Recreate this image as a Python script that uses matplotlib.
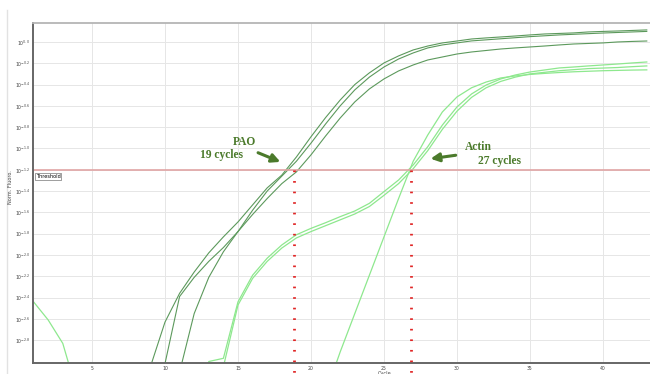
import numpy as np
import matplotlib
matplotlib.use("Agg")
import matplotlib.pyplot as plt
from matplotlib.lines import Line2D

# cycles 1..43, values are log10 of normalized fluorescence
cycles = np.arange(1, 44)
NONE = -3.6  # below the visible range

pao_a = [NONE] * 8 + [-3.05, -2.63, -2.36, -2.16, -1.98, -1.83, -1.69, -1.53, -1.37, -1.25,
         -1.08, -0.89, -0.71, -0.545, -0.40, -0.29, -0.197, -0.131, -0.075, -0.038, -0.009,
         0.009, 0.028, 0.038, 0.047, 0.056, 0.066, 0.075, 0.080, 0.085, 0.094, 0.099, 0.103,
         0.108, 0.113]
pao_b = [NONE] * 9 + [-3.02, -2.39, -2.21, -2.06, -1.93, -1.78, -1.58, -1.40, -1.26,
         -1.12, -0.95, -0.77, -0.60, -0.45, -0.33, -0.235, -0.16, -0.103, -0.056, -0.028,
         -0.009, 0.010, 0.020, 0.030, 0.040, 0.050, 0.058, 0.066, 0.072, 0.078, 0.084, 0.089,
         0.094, 0.099]
pao_c = [NONE] * 10 + [-3.10, -2.55, -2.21, -1.97, -1.78, -1.62, -1.47, -1.33, -1.22,
         -1.06, -0.883, -0.714, -0.563, -0.441, -0.347, -0.272, -0.216, -0.169, -0.141,
         -0.113, -0.094, -0.080, -0.066, -0.056, -0.047, -0.038, -0.028, -0.019, -0.014,
         -0.009, 0.000, 0.005, 0.009]

act_a = [NONE] * 12 + [-3.00, -2.97, -2.44, -2.19, -2.03, -1.906, -1.81, -1.75, -1.697,
         -1.64, -1.587, -1.515, -1.405, -1.296, -1.155, -0.983, -0.78, -0.61, -0.488, -0.404,
         -0.347, -0.31, -0.282, -0.263, -0.244, -0.235, -0.225, -0.216, -0.207, -0.197, -0.188]
act_b = [NONE] * 13 + [-3.05, -2.47, -2.22, -2.06, -1.935, -1.84, -1.78, -1.725, -1.67,
         -1.615, -1.545, -1.44, -1.33, -1.19, -1.02, -0.82, -0.65, -0.52, -0.43, -0.37,
         -0.33, -0.30, -0.285, -0.27, -0.26, -0.25, -0.245, -0.24, -0.232, -0.225]
act_c = [-2.44, -2.61, -2.83, -3.30] + [NONE] * 16 + [-3.30, -2.91, -2.55, -2.19, -1.83,
         -1.47, -1.12, -0.873, -0.657, -0.516, -0.43, -0.376, -0.338, -0.319, -0.305,
         -0.295, -0.287, -0.28, -0.275, -0.27, -0.267, -0.264, -0.262]

threshold = -1.2
ct_pao = 18.85
ct_actin = 26.85
ytick_exp = [0.0, -0.2, -0.4, -0.6, -0.8, -1.0, -1.2, -1.4, -1.6, -1.8, -2.0, -2.2, -2.4, -2.6, -2.8]
xticks = [5, 10, 15, 20, 25, 30, 35, 40]

dark = "#5c995c"
light = "#8ee88e"
note = "#4b7a2b"

fig = plt.figure(figsize=(6.5, 3.74), dpi=100)
ax = fig.add_axes([33 / 650, 11 / 374, 617 / 650, 340 / 374])

for vals in (pao_a, pao_b, pao_c):
    ax.plot(cycles, 10 ** np.array(vals), color=dark, lw=0.8)
for vals in (act_a, act_b, act_c):
    ax.plot(cycles, 10 ** np.array(vals), color=light, lw=0.9)

ax.set_yscale("log")
ax.set_xlim(0.96, 43.22)
ax.set_ylim(10 ** -3.014, 10 ** 0.178)
ax.set_yticks([10 ** e for e in ytick_exp])
ax.set_yticklabels(["$10^{%.1f}$" % e for e in ytick_exp])
ax.yaxis.set_minor_locator(matplotlib.ticker.NullLocator())
ax.set_xticks(xticks)
ax.tick_params(length=0, labelsize=3.3, colors="#444444", pad=2)
ax.grid(True, color="#e6e6e6", lw=0.7)
ax.set_axisbelow(True)

ax.spines["right"].set_visible(False)
ax.spines["top"].set_color("#b5b5b5")
ax.spines["top"].set_linewidth(1.3)
for s in ("left", "bottom"):
    ax.spines[s].set_color("#666666")
    ax.spines[s].set_linewidth(1.4)

# threshold
ax.axhline(10 ** threshold, color="#e0a4a4", lw=1.2)
ax.text(1.15, 10 ** (threshold - 0.04), "Threshold", fontsize=3.6, va="top", ha="left",
        bbox=dict(facecolor="white", edgecolor="#555555", lw=0.4, pad=0.6))

# Ct markers
for ct in (ct_pao, ct_actin):
    ax.plot([ct, ct], [10 ** threshold, 10 ** -3.13], color="#e02525", lw=2,
            ls=(0, (0.6, 3.2)), clip_on=False, zorder=5)

# annotations
tfont = dict(family="Liberation Serif", weight="bold", color=note, fontsize=8.3)
ax.text(14.66, 10 ** -0.939, "PAO", ha="left", va="center", **tfont)
ax.text(15.35, 10 ** -1.06, "19 cycles", ha="right", va="center", **tfont)
ax.annotate("", xy=(18.08, 10 ** -1.136), xytext=(16.2, 10 ** -1.03),
            arrowprops=dict(arrowstyle="-|>,head_length=0.5,head_width=0.25", color=note, lw=2.2))
ax.text(30.55, 10 ** -0.986, "Actin", ha="left", va="center", **tfont)
ax.text(31.44, 10 ** -1.117, "27 cycles", ha="left", va="center", **tfont)
ax.annotate("", xy=(28.0, 10 ** -1.10), xytext=(30.1, 10 ** -1.06),
            arrowprops=dict(arrowstyle="-|>,head_length=0.5,head_width=0.25", color=note, lw=2.2))

fig.text(11 / 650, 0.5, "Norm. Fluoro.", rotation=90, fontsize=3.6, color="#444444",
         ha="center", va="center")
fig.text(385 / 650, 1 / 374, "Cycle", fontsize=3.6, color="#444444", ha="center", va="center")
fig.add_artist(Line2D([7 / 650, 7 / 650], [0, 1 - 10 / 374], transform=fig.transFigure,
                      color="#e2e2e2", lw=1))

fig.savefig("out.png", dpi=100)
